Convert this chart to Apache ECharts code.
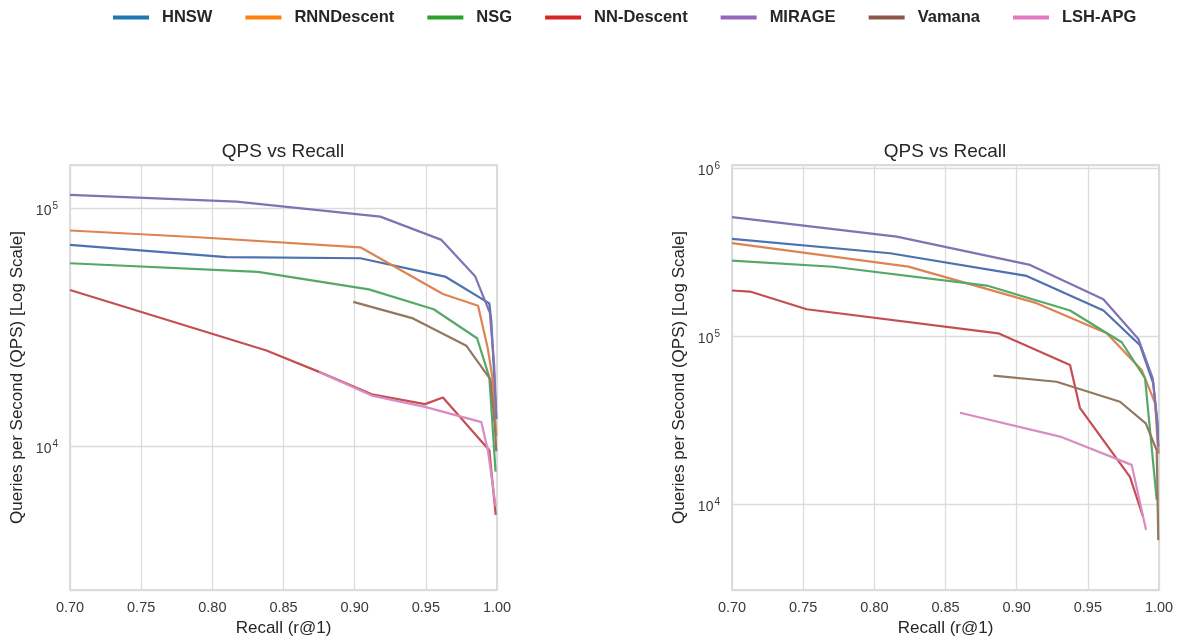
<!DOCTYPE html>
<html>
<head>
<meta charset="utf-8">
<script src="https://cdn.jsdelivr.net/npm/echarts@6/dist/echarts.min.js"></script>
<style>
  html, body { margin: 0; padding: 0; background: #fff; }
  #chart { width: 1183px; height: 642px; }
</style>
</head>
<body>
<div id="chart"></div>
<script>
const methods = ['HNSW', 'RNNDescent', 'NSG', 'NN-Descent', 'MIRAGE', 'Vamana', 'LSH-APG']
const lineColors = ['#4C72B0', '#DD8452', '#55A868', '#C44E52', '#8172B3', '#937860', '#DA8BC3']
const legendColors = ['#1f77b4', '#ff7f0e', '#2ca02c', '#d62728', '#9467bd', '#8c564b', '#e377c2']
const xTicks = [0.70, 0.75, 0.80, 0.85, 0.90, 0.95, 1.00]

// left panel: [recall, qps]
const leftHNSW = [[0.70, 70100], [0.81, 62300], [0.904, 61600], [0.9635, 51600], [0.9946, 39800], [0.996, 33400], [0.998, 20000], [0.9995, 13000]]
const leftRNN = [[0.70, 80600], [0.79, 75500], [0.904, 68500], [0.962, 43600], [0.9867, 38900], [0.9935, 25800], [0.997, 19000], [0.9995, 11000]]
const leftNSG = [[0.70, 58700], [0.832, 54000], [0.910, 45600], [0.9555, 37600], [0.986, 28400], [0.9946, 19500], [0.999, 7800]]
const leftNND = [[0.70, 45300], [0.838, 25200], [0.875, 20500], [0.912, 16500], [0.9494, 15000], [0.962, 16000], [0.9913, 10100], [0.9946, 9600], [0.9991, 5130]]
const leftMIRAGE = [[0.70, 113800], [0.817, 106600], [0.918, 92200], [0.961, 73600], [0.9846, 51800], [0.995, 36300], [0.998, 22000], [0.9995, 13000]]
const leftVamana = [[0.899, 40400], [0.941, 34400], [0.9785, 26400], [0.9955, 19000], [0.9985, 12000], [0.9995, 9500]]
const leftLSH = [[0.875, 20500], [0.912, 16300], [0.9494, 14600], [0.989, 12600], [0.9936, 9600], [0.9991, 5560]]

// right panel: [recall, qps]
const rightHNSW = [[0.70, 377600], [0.811, 310400], [0.907, 227500], [0.961, 141600], [0.9867, 88000], [0.996, 52300], [0.999, 30000], [0.9995, 20000]]
const rightRNN = [[0.70, 356500], [0.824, 258500], [0.914, 156700], [0.9633, 103700], [0.9878, 62800], [0.9973, 39700], [0.9995, 20000]]
const rightNSG = [[0.70, 280600], [0.771, 258000], [0.879, 199400], [0.9375, 141600], [0.9738, 91700], [0.9902, 56000], [0.9984, 10600]]
const rightNND = [[0.70, 186400], [0.7126, 183700], [0.7525, 144200], [0.8871, 103700], [0.9375, 67100], [0.9445, 37200], [0.9796, 14500], [0.9886, 8500]]
const rightMIRAGE = [[0.70, 508800], [0.8157, 390000], [0.9094, 264700], [0.9609, 165300], [0.9855, 96000], [0.9956, 56000], [0.9985, 31600], [0.9995, 22000]]
const rightVamana = [[0.8836, 58000], [0.928, 53400], [0.9726, 40600], [0.9907, 30200], [0.9984, 20900], [0.9995, 6100]]
const rightLSH = [[0.8602, 34900], [0.9305, 25200], [0.9808, 17100], [0.9909, 7000]]

const leftData = [leftHNSW, leftRNN, leftNSG, leftNND, leftMIRAGE, leftVamana, leftLSH]
const rightData = [rightHNSW, rightRNN, rightNSG, rightNND, rightMIRAGE, rightVamana, rightLSH]

const chart = echarts.init(document.getElementById('chart'))

const FONT = '"Liberation Sans", Arial, sans-serif'
const gridLine = { lineStyle: { color: '#dcdcdc', width: 1.3 } }

const makeXAxis = (gridIndex) => ({
  type: 'value',
  gridIndex,
  min: 0.70,
  max: 1.00,
  interval: 0.05,
  name: 'Recall (r@1)',
  nameLocation: 'middle',
  nameGap: 28,
  nameTextStyle: { color: '#262626', fontSize: 17, fontFamily: FONT },
  axisLine: { show: false },
  axisTick: { show: false },
  splitLine: gridLine,
  axisLabel: {
    color: '#3a3a3a',
    fontSize: 14.5,
    fontFamily: FONT,
    margin: 10,
    formatter: (v) => v.toFixed(2)
  }
})

const makeYAxis = (gridIndex, min, max) => ({
  type: 'log',
  logBase: 10,
  gridIndex,
  min,
  max,
  name: 'Queries per Second (QPS) [Log Scale]',
  nameLocation: 'middle',
  nameGap: 44,
  nameTextStyle: { color: '#262626', fontSize: 17, fontFamily: FONT },
  axisLine: { show: false },
  axisTick: { show: false },
  splitLine: gridLine,
  axisLabel: {
    color: '#3a3a3a',
    margin: 12,
    formatter: (v) => {
      const e = Math.log10(v)
      if (Math.abs(e - Math.round(e)) > 0.01) return ''
      return '{b|10}{s|' + Math.round(e) + '}'
    },
    rich: {
      b: { fontSize: 14, fontFamily: FONT, color: '#3a3a3a', padding: [6, 0, 0, 0] },
      s: { fontSize: 10, fontFamily: FONT, color: '#3a3a3a', padding: [0, 0, 4, 1] }
    }
  }
})

const series = []
;[leftData, rightData].forEach((panel, g) => {
  panel.forEach((pts, i) => {
    series.push({
      name: methods[i],
      type: 'line',
      xAxisIndex: g,
      yAxisIndex: g,
      data: pts,
      symbol: 'none',
      smooth: false,
      lineStyle: { width: 2.2, color: lineColors[i] },
      itemStyle: { color: lineColors[i] },
      z: 2 + i,
      animation: false
    })
  })
})

const option = {
  backgroundColor: '#ffffff',
  animation: false,
  legend: {
    left: 108,
    top: 4,
    itemWidth: 36,
    itemHeight: 4,
    itemGap: 33,
    icon: 'rect',
    textStyle: { fontSize: 16.5, fontWeight: 'bold', color: '#262626', fontFamily: FONT, padding: [0, 0, 0, 8] },
    data: methods.map((m, i) => ({
      name: m,
      itemStyle: { color: legendColors[i] }
    }))
  },
  grid: [
    { left: 70, right: 686, top: 165, bottom: 52, show: true, borderColor: '#d0d0d0', borderWidth: 1.5, backgroundColor: '#fff' },
    { left: 732, right: 24, top: 165, bottom: 52, show: true, borderColor: '#d0d0d0', borderWidth: 1.5, backgroundColor: '#fff' }
  ],
  xAxis: [makeXAxis(0), makeXAxis(1)],
  yAxis: [makeYAxis(0, 2480, 152000), makeYAxis(1, 3080, 1040000)],
  graphic: [
    { type: 'text', x: 283, y: 152, style: { text: 'QPS vs Recall', textAlign: 'center', textVerticalAlign: 'middle', font: '19px "Liberation Sans", Arial, sans-serif', fill: '#262626' } },
    { type: 'text', x: 945, y: 152, style: { text: 'QPS vs Recall', textAlign: 'center', textVerticalAlign: 'middle', font: '19px "Liberation Sans", Arial, sans-serif', fill: '#262626' } }
  ],
  series
}

chart.setOption(option)
</script>
</body>
</html>
